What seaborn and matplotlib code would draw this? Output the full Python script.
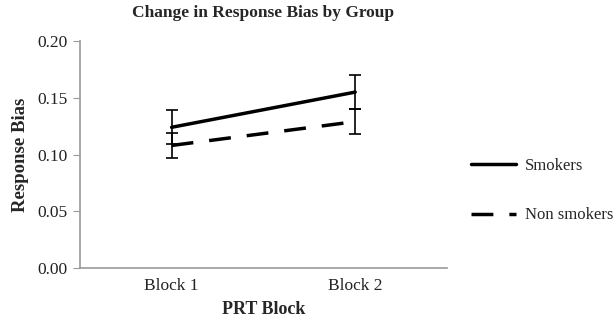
import pandas as pd
import numpy as np
import matplotlib
matplotlib.use("Agg")
import matplotlib.pyplot as plt
import seaborn as sns
from matplotlib.lines import Line2D

blocks = ["Block 1", "Block 2"]
smokers = [0.124, 0.155]
smokers_err = [0.015, 0.015]
non_smokers = [0.108, 0.129]
non_smokers_err = [0.011, 0.011]

df = pd.DataFrame({
    "block": blocks * 2,
    "bias": smokers + non_smokers,
    "err": smokers_err + non_smokers_err,
    "group": ["Smokers"] * 2 + ["Non smokers"] * 2,
})

sns.set_style("white")
plt.rcParams["font.family"] = ["Liberation Serif", "DejaVu Serif"]

fig = plt.figure(figsize=(6.14, 3.18), dpi=100)
ax = fig.add_axes([0.130, 0.157, 0.598, 0.714])

dash = (6.3, 4.6)
sns.lineplot(data=df, x="block", y="bias", style="group",
             dashes={"Smokers": "", "Non smokers": dash},
             color="black", linewidth=2.5, ax=ax, legend=False)

# error bars
for g in ["Smokers", "Non smokers"]:
    sub = df[df.group == g]
    ax.errorbar(np.arange(len(sub)), sub.bias, yerr=sub.err, fmt="none",
                ecolor="black", elinewidth=1.2, capsize=4, capthick=1.2)

ax.set_xlim(-0.5, 1.5)
ax.set_ylim(0, 0.20)
ax.set_yticks([0, 0.05, 0.10, 0.15, 0.20])
ax.set_yticklabels(["0.00", "0.05", "0.10", "0.15", "0.20"])
ax.set_xticks([0, 1])
ax.set_xticklabels(blocks)
ax.set_xticks([-0.5, 0.5, 1.5], minor=True)
ax.tick_params(axis="x", which="major", length=0, labelsize=12.5, pad=7)
ax.tick_params(axis="x", which="minor", length=5, color="#999999", direction="out")
ax.tick_params(axis="y", length=5, color="#999999", direction="out",
               labelsize=12.5, left=True, pad=4, labelcolor="#222222")
ax.tick_params(axis="x", labelcolor="#222222")

for s in ["top", "right"]:
    ax.spines[s].set_visible(False)
for s in ["left", "bottom"]:
    ax.spines[s].set_color("#999999")
    ax.spines[s].set_linewidth(1.2)

ax.set_xlabel("PRT Block", fontsize=13, fontweight="bold", labelpad=5)
ax.set_ylabel("Response Bias", fontsize=13.5, fontweight="bold", labelpad=6)
ax.set_title("Change in Response Bias by Group", fontsize=12.5, fontweight="bold", pad=17)

handles = [Line2D([], [], color="black", lw=2.5),
           Line2D([], [], color="black", lw=2.5, dashes=dash)]
fig.legend(handles, ["Smokers", "Non smokers"], loc="center left",
           bbox_to_anchor=(0.742, 0.40), frameon=False, fontsize=12,
           handlelength=2.75, handletextpad=0.5, labelspacing=2.0)

fig.savefig("out.png", dpi=100)
